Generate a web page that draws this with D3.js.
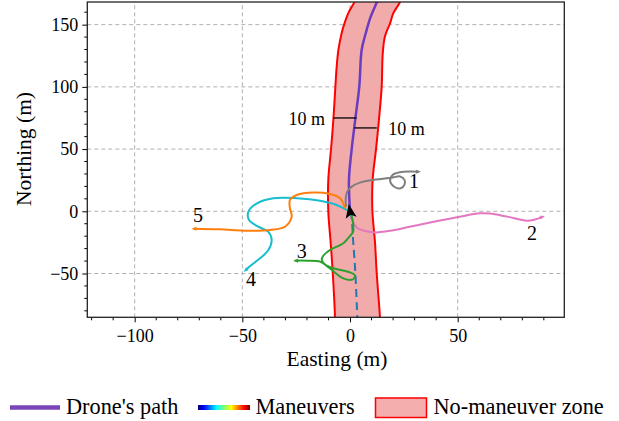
<!DOCTYPE html>
<html>
<head>
<meta charset="utf-8">
<script src="https://cdn.jsdelivr.net/npm/d3@7"></script>
<style>
  body { margin: 0; background: #fff; }
  svg { display: block; font-family: "Liberation Serif", "Times New Roman", serif; }
</style>
</head>
<body>
<svg id="chart" width="619" height="421"></svg>
<script>
// axis ticks
var xMajor = [-100, -50, 0, 50];
var yMajor = [-50, 0, 50, 100, 150];
var xMinor = d3.range(-120, 100, 10);
var yMinor = d3.range(-80, 170, 10);

// drone path (flown part) and planned part below the start
var dronePath = [[0,0],[-0.5,25.2],[0.8,50.3],[2.5,74.8],[4.3,100.2],[5.4,129.7],[7.3,143.1],[9.6,156.4],[12.4,167.7],[13.5,172]];
var plannedPath = [[0,0],[0.8,-7],[1.5,-25],[2.5,-50],[3.4,-85.2],[3.6,-90]];

// no-maneuver zone edges
var zoneLeft = [[-7,-90],[-7,-85],[-8,-50],[-9,-25],[-10.1,0],[-10.1,25.2],[-8.8,50.3],[-7.7,74.8],[-6.8,100.2],[-6.2,116.2],[-5.4,129.7],[-3.9,143.1],[-2.8,149.8],[-0.8,159.2],[1.9,167.7],[3,172]];
var zoneRight = [[14,-90],[13.9,-85],[12.4,-50],[11.6,-25],[10.4,0],[10.5,25.2],[12.1,50.3],[13.5,74.8],[14.7,100.2],[15.2,127],[16.2,140.4],[18.6,151.1],[20.1,159.2],[22.9,167.2],[24,172]];

// maneuvers
var man1 = [[-1.9,3.5],[-2.0,10.5],[-1.3,15.8],[0.8,19.8],[4.6,23.0],[10.7,25.2],[15.3,26.1],[20.0,27.2],[23.2,28.0],[25.3,25.2],[25.3,21.5],[23.5,18.5],[20.7,19.5],[18.6,24.6],[19.8,29.2],[23.2,31.4],[27.9,32.0],[32.0,31.8]];
var man2 = [[0.5,-3.8],[1.9,-10.2],[3.7,-13.8],[7.0,-15.8],[11.6,-17.0],[16.2,-16.2],[23.2,-14.2],[33.9,-10.2],[49.7,-4.8],[60.4,-1.6],[65,-1.8],[72.9,-4.3],[82.2,-7.6],[85.9,-6.6],[89.6,-4.3]];
var man3 = [[0.5,-2.2],[1.4,-9.4],[1.4,-16.6],[0,-19.8],[-3.1,-25.7],[-9.3,-31.1],[-12.5,-35.9],[-13.1,-39.1],[-11.6,-42.8],[-7.7,-45.8],[-0.8,-48.6],[2.3,-51.6],[1.2,-54.8],[-3.1,-53.9],[-9.3,-46.0],[-13.9,-40.5],[-20.1,-39.7],[-25.5,-39.7]];
var man4 = [[-1.4,1.0],[-6.2,5.1],[-13.9,8.5],[-24.7,10.5],[-35.6,10.5],[-43.2,6.4],[-47.2,-0.3],[-46.9,-7.0],[-42.6,-12.4],[-37.9,-16.6],[-36.4,-23.1],[-37.9,-31.1],[-41.8,-37.8],[-46.4,-44.0],[-48.7,-47.7]];
var man5 = [[-2.3,2.4],[-4.6,10.5],[-9.3,13.9],[-17.0,15.0],[-24.7,13.1],[-27.9,9.1],[-27.9,2.4],[-27.1,-4.3],[-30.2,-12.4],[-37.1,-15.0],[-48.0,-15.6],[-60.4,-14.5],[-72.7,-14.0]];
var maneuvers = [man1, man2, man3, man4, man5];
var maneuverColors = ["#7f7f7f", "#e377c2", "#2ca02c", "#17becf", "#ff7f0e"];
var maneuverNames = ["1", "2", "3", "4", "5"];
var nameSpots = [[29.7,18.7],[84.5,-23.1],[-22.4,-37.3],[-46.0,-60.0],[-70.6,-8.8]];

// 10 m width markers
var widthMarks = [[-7.7,3.1,75],[2.0,12.4,67]];
var widthText = ["10 m", "10 m"];
var widthSpots = [[-11.6,69.3,"end"],[17.8,61.3,"start"]];

var legendNames = ["Drone's path", "Maneuvers", "No-maneuver zone"];

var svg = d3.select("#chart");
var x = d3.scaleLinear().domain([-122, 99.5]).range([87.3, 564.3]);
var y = d3.scaleLinear().domain([-85.2, 168.2]).range([317.3, 2]);

svg.append("defs").append("clipPath").attr("id", "plotclip")
  .append("rect")
  .attr("x", x.range()[0]).attr("y", y.range()[1])
  .attr("width", x.range()[1] - x.range()[0])
  .attr("height", y.range()[0] - y.range()[1]);

// grid
var grid = svg.append("g");
grid.selectAll(".gx").data(xMajor).enter().append("line")
  .attr("x1", d => x(d)).attr("x2", d => x(d))
  .attr("y1", y.range()[0]).attr("y2", y.range()[1]);
grid.selectAll(".gy").data(yMajor).enter().append("line")
  .attr("y1", d => y(d)).attr("y2", d => y(d))
  .attr("x1", x.range()[0]).attr("x2", x.range()[1]);
grid.selectAll("line").attr("stroke", "#b0b0b0").attr("stroke-width", 1).attr("stroke-dasharray", "4,3");

var plot = svg.append("g").attr("clip-path", "url(#plotclip)");
var line = d3.line().x(d => x(d[0])).y(d => y(d[1])).curve(d3.curveCatmullRom);

// zone fill between edges
var zonePoly = zoneLeft.concat(zoneRight.slice().reverse());
var zoneArea = d3.line().x(d => x(d[0])).y(d => y(d[1])).curve(d3.curveLinearClosed);
plot.append("path").attr("d", zoneArea(zonePoly)).attr("fill", "#f2abab");

plot.append("path").attr("d", line(zoneLeft)).attr("fill", "none").attr("stroke", "#ff0000").attr("stroke-width", 2);
plot.append("path").attr("d", line(zoneRight)).attr("fill", "none").attr("stroke", "#ff0000").attr("stroke-width", 2);

plot.append("path").attr("d", line(plannedPath)).attr("fill", "none")
  .attr("stroke", "#1f77b4").attr("stroke-width", 2).attr("stroke-dasharray", "8,5");
plot.append("path").attr("d", line(dronePath)).attr("fill", "none")
  .attr("stroke", "#6a3cc0").attr("stroke-width", 2.5);

// maneuvers with small heads at the end
maneuvers.forEach(function(m, i) {
  plot.append("path").attr("d", line(m)).attr("fill", "none")
    .attr("stroke", maneuverColors[i]).attr("stroke-width", 2);
  var a = m[m.length - 2], b = m[m.length - 1];
  var ang = Math.atan2(y(b[1]) - y(a[1]), x(b[0]) - x(a[0])) * 180 / Math.PI;
  plot.append("path").attr("d", "M2,0 L-3,-2 L-3,2 Z")
    .attr("transform", "translate(" + x(b[0]) + "," + y(b[1]) + ") rotate(" + ang + ")")
    .attr("fill", maneuverColors[i]);
});

// start arrow
plot.append("path").attr("d", "M0,-7.5 L5.5,6.5 L0,3.5 L-5.5,6.5 Z")
  .attr("transform", "translate(" + x(0) + "," + y(0) + ") rotate(-10)")
  .attr("fill", "#000");

// width markers
widthMarks.forEach(function(w, i) {
  svg.append("line").attr("x1", x(w[0])).attr("x2", x(w[1]))
    .attr("y1", y(w[2])).attr("y2", y(w[2]))
    .attr("stroke", "#000").attr("stroke-width", 1.3);
  svg.append("text").attr("x", x(widthSpots[i][0])).attr("y", y(widthSpots[i][1]))
    .attr("text-anchor", widthSpots[i][2]).attr("font-size", 18).text(widthText[i]);
});

// maneuver numbers
maneuverNames.forEach(function(n, i) {
  svg.append("text").attr("x", x(nameSpots[i][0])).attr("y", y(nameSpots[i][1]))
    .attr("text-anchor", "middle").attr("font-size", 20).text(n);
});

// axes
var xAxis = svg.append("g").attr("transform", "translate(0," + y.range()[0] + ")")
  .call(d3.axisBottom(x).tickValues(xMajor).tickSize(5).tickPadding(4).tickFormat(d => d < 0 ? "\u2212" + Math.abs(d) : d));
var yAxis = svg.append("g").attr("transform", "translate(" + x.range()[0] + ",0)")
  .call(d3.axisLeft(y).tickValues(yMajor).tickSize(5).tickPadding(4).tickFormat(d => d < 0 ? "\u2212" + Math.abs(d) : d));
[xAxis, yAxis].forEach(function(g) {
  g.select(".domain").remove();
  g.selectAll("text").attr("font-size", 18).attr("font-family", "Liberation Serif, serif").attr("fill", "#000");
  g.selectAll("line").attr("stroke", "#000");
});
xAxis.selectAll(".tick text").attr("dy", "0.85em");

svg.selectAll(".mx").data(xMinor.filter(d => xMajor.indexOf(d) < 0)).enter().append("line")
  .attr("x1", d => x(d)).attr("x2", d => x(d))
  .attr("y1", y.range()[0]).attr("y2", y.range()[0] + 3).attr("stroke", "#000");
svg.selectAll(".my").data(yMinor.filter(d => yMajor.indexOf(d) < 0)).enter().append("line")
  .attr("y1", d => y(d)).attr("y2", d => y(d))
  .attr("x1", x.range()[0]).attr("x2", x.range()[0] - 3).attr("stroke", "#000");

// frame
svg.append("rect").attr("x", x.range()[0]).attr("y", y.range()[1])
  .attr("width", x.range()[1] - x.range()[0]).attr("height", y.range()[0] - y.range()[1])
  .attr("fill", "none").attr("stroke", "#222").attr("stroke-width", 1.3);

svg.append("text").attr("x", 337).attr("y", 366).attr("text-anchor", "middle")
  .attr("font-size", 21.5).text("Easting (m)");
svg.append("text").attr("transform", "translate(31,149) rotate(-90)").attr("text-anchor", "middle")
  .attr("font-size", 21.5).text("Northing (m)");

// legend
var grad = svg.select("defs").append("linearGradient").attr("id", "jet");
[[0,"#00007f"],[0.11,"#0000ff"],[0.36,"#00ffff"],[0.5,"#7dff7a"],[0.64,"#ffff00"],[0.89,"#ff0000"],[1,"#7f0000"]].forEach(function(s) {
  grad.append("stop").attr("offset", s[0]).attr("stop-color", s[1]);
});
var leg = svg.append("g");
leg.append("line").attr("x1", 10).attr("x2", 60).attr("y1", 407.5).attr("y2", 407.5)
  .attr("stroke", "#7a45b8").attr("stroke-width", 4.5);
leg.append("rect").attr("x", 198).attr("y", 405).attr("width", 52).attr("height", 5).attr("fill", "url(#jet)");
leg.append("rect").attr("x", 375.5).attr("y", 398).attr("width", 51).attr("height", 19.5)
  .attr("fill", "#f4aeae").attr("stroke", "#ff0000").attr("stroke-width", 1.5);
var legX = [66, 255.5, 433.5];
leg.selectAll("text").data(legendNames).enter().append("text")
  .attr("x", (d, i) => legX[i]).attr("y", 414).attr("font-size", 22.3).text(d => d);
</script>
</body>
</html>
